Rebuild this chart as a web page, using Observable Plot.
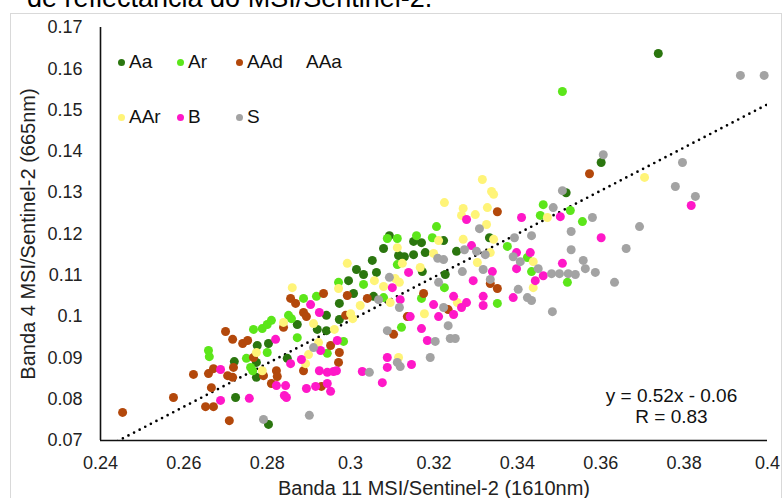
<!DOCTYPE html>
<html>
<head>
<meta charset="utf-8">
<script src="https://cdn.jsdelivr.net/npm/d3@7"></script>
<script src="https://cdn.jsdelivr.net/npm/@observablehq/plot@0.6"></script>
<style>
  html, body { margin: 0; padding: 0; background: #fff; overflow: hidden; }
  body { width: 784px; height: 498px; position: relative; font-family: "Liberation Sans", Arial, sans-serif; }
  #title { position: absolute; left: 27px; top: -15px; font-size: 27px; line-height: 27px; white-space: nowrap; color: #000; }
  #frame { position: absolute; left: 10px; top: 13px; width: 772px; height: 500px; border: 1px solid #d9d9d9; box-sizing: border-box; }
  #chart { position: absolute; left: 0; top: 0; }
  .lg-item { position: absolute; height: 20px; display: flex; align-items: center; font-size: 19px; color: #111; white-space: nowrap; }
  .lg-dot { width: 7px; height: 7px; border-radius: 50%; margin-right: 4px; flex: none; }
</style>
</head>
<body>
<div id="title">de reflectância do MSI/Sentinel-2.</div>
<div id="frame"></div>
<div id="chart"></div>
<div id="legend"></div>
<script>
// Classes, in drawing order, with their marker colours
const groups = ["Aa", "Ar", "AAd", "AAa", "AAr", "B", "S"];
const groupColors = ["#2b760f", "#5ce61a", "#b3480b", "transparent", "#fff478", "#ff18c8", "#a3a3a3"];

// [Banda 11, Banda 4] reflectance pairs per class
const aaPts = [[0.3738,0.1637],[0.3601,0.1373],[0.3517,0.1300],[0.3333,0.1191],[0.3093,0.1196],[0.3151,0.1182],[0.3170,0.1179],[0.3079,0.1165],[0.3115,0.1148],[0.3129,0.1145],[0.3151,0.1150],[0.3179,0.1155],[0.3254,0.1158],[0.3052,0.1136],[0.3014,0.1114],[0.3031,0.1102],[0.3062,0.1107],[0.3172,0.1109],[0.3227,0.1102],[0.3223,0.1184],[0.2995,0.1087],[0.3007,0.1056],[0.3055,0.1049],[0.2973,0.1032],[0.2942,0.1003],[0.2973,0.0993],[0.2872,0.0981],[0.2920,0.0969],[0.2942,0.0966],[0.2803,0.0935],[0.2776,0.0930],[0.2848,0.0899],[0.2721,0.0891],[0.2774,0.0889],[0.2774,0.0853],[0.2724,0.0804],[0.2803,0.0739]];
const arPts = [[0.3508,0.1545],[0.3462,0.1271],[0.3527,0.1257],[0.3455,0.1245],[0.3556,0.1230],[0.3206,0.1218],[0.3088,0.1189],[0.3112,0.1189],[0.3158,0.1196],[0.3196,0.1191],[0.3112,0.1126],[0.2971,0.1083],[0.3031,0.1078],[0.3225,0.1070],[0.3376,0.1170],[0.3424,0.1143],[0.3434,0.1109],[0.3520,0.1083],[0.3352,0.1032],[0.3170,0.1044],[0.3122,0.0974],[0.3079,0.1046],[0.2887,0.1044],[0.2918,0.1049],[0.2851,0.1003],[0.2858,0.0995],[0.2767,0.0969],[0.2788,0.0971],[0.2800,0.0981],[0.2810,0.0991],[0.2872,0.0949],[0.2983,0.0940],[0.2944,0.0911],[0.2659,0.0918],[0.2661,0.0903],[0.2750,0.0899],[0.2800,0.0913],[0.2760,0.0877],[0.2765,0.0869]];
const aadPts = [[0.3573,0.1346],[0.3352,0.1254],[0.3352,0.1068],[0.3335,0.1080],[0.3175,0.1056],[0.3103,0.0957],[0.3136,0.1000],[0.3234,0.1017],[0.3040,0.1044],[0.2992,0.1051],[0.2988,0.1003],[0.2935,0.1056],[0.2856,0.1044],[0.2868,0.1032],[0.2887,0.1010],[0.2894,0.1000],[0.2839,0.0974],[0.2700,0.0964],[0.2717,0.0945],[0.2741,0.0935],[0.2753,0.0942],[0.2952,0.0930],[0.2973,0.0913],[0.2971,0.0889],[0.2887,0.0869],[0.2930,0.0831],[0.2822,0.0869],[0.2824,0.0855],[0.2810,0.0838],[0.2767,0.0901],[0.2791,0.0857],[0.2719,0.0877],[0.2705,0.0857],[0.2717,0.0853],[0.2659,0.0862],[0.2671,0.0874],[0.2623,0.0860],[0.2666,0.0828],[0.2652,0.0782],[0.2671,0.0782],[0.2709,0.0748],[0.2575,0.0804],[0.2453,0.0768]];
const aaaPts = [];
const aarPts = [[0.3705,0.1337],[0.3316,0.1332],[0.3338,0.1303],[0.3343,0.1296],[0.3225,0.1276],[0.3270,0.1262],[0.3266,0.1245],[0.3299,0.1247],[0.3328,0.1264],[0.3472,0.1240],[0.3326,0.1223],[0.3270,0.1187],[0.3343,0.1187],[0.3211,0.1184],[0.3112,0.1167],[0.3199,0.1153],[0.3335,0.1155],[0.3304,0.1131],[0.3167,0.1119],[0.3438,0.1133],[0.2992,0.1129],[0.3057,0.1087],[0.3107,0.1092],[0.3117,0.1083],[0.3079,0.1073],[0.2971,0.1068],[0.2860,0.1070],[0.3124,0.1129],[0.3438,0.1070],[0.3256,0.1034],[0.3177,0.1007],[0.3095,0.1034],[0.3023,0.1027],[0.3000,0.1007],[0.3005,0.0995],[0.2911,0.0983],[0.2839,0.0986],[0.2961,0.0969],[0.2923,0.0937],[0.2899,0.0908],[0.2892,0.0886],[0.2774,0.0913],[0.2788,0.0869],[0.3115,0.0901]];
const bPts = [[0.3817,0.1269],[0.3601,0.1191],[0.3410,0.1240],[0.3503,0.1242],[0.3278,0.1235],[0.3290,0.1172],[0.3398,0.1155],[0.3431,0.1155],[0.3508,0.1129],[0.3398,0.1116],[0.3462,0.1099],[0.3443,0.1087],[0.3340,0.1109],[0.3294,0.1087],[0.3139,0.1107],[0.3100,0.1070],[0.3119,0.1041],[0.3199,0.1029],[0.3211,0.1000],[0.3143,0.1000],[0.3247,0.1049],[0.3266,0.1022],[0.3278,0.1034],[0.3247,0.1005],[0.3318,0.1049],[0.3318,0.1027],[0.3390,0.1046],[0.3170,0.0971],[0.3184,0.0942],[0.3088,0.0901],[0.3088,0.0877],[0.3146,0.0884],[0.3076,0.0840],[0.3028,0.0867],[0.2904,0.1029],[0.2925,0.1010],[0.2820,0.0945],[0.2968,0.0942],[0.2928,0.0918],[0.2856,0.0886],[0.2882,0.0896],[0.2894,0.0826],[0.2916,0.0831],[0.2925,0.0869],[0.2944,0.0865],[0.2959,0.0867],[0.2966,0.0869],[0.2944,0.0838],[0.2952,0.0819],[0.2822,0.0833],[0.2844,0.0833],[0.2841,0.0809],[0.2846,0.0804],[0.2688,0.0872],[0.2688,0.0797],[0.2757,0.0802]];
const sPts = [[0.3935,0.1584],[0.3992,0.1584],[0.3606,0.1392],[0.3796,0.1373],[0.3779,0.1315],[0.3827,0.1291],[0.3508,0.1305],[0.3486,0.1264],[0.3580,0.1240],[0.3693,0.1218],[0.3529,0.1206],[0.3661,0.1165],[0.3529,0.1162],[0.3434,0.1196],[0.3393,0.1191],[0.3309,0.1213],[0.3273,0.1162],[0.3302,0.1158],[0.3323,0.1150],[0.3390,0.1145],[0.3407,0.1133],[0.3450,0.1116],[0.3558,0.1136],[0.3563,0.1116],[0.3587,0.1107],[0.3633,0.1083],[0.3482,0.1104],[0.3501,0.1104],[0.3522,0.1104],[0.3539,0.1102],[0.3318,0.1114],[0.3268,0.1109],[0.3335,0.1090],[0.3211,0.1083],[0.3209,0.1141],[0.3223,0.1138],[0.3093,0.1095],[0.3117,0.1022],[0.3223,0.1022],[0.3234,0.0978],[0.3239,0.0947],[0.3251,0.0947],[0.3203,0.0940],[0.3191,0.0901],[0.3119,0.0879],[0.3112,0.0889],[0.3088,0.0966],[0.3045,0.0865],[0.3067,0.1041],[0.2911,0.0925],[0.2901,0.0761],[0.2791,0.0751],[0.3424,0.1046],[0.3434,0.1039],[0.3484,0.1012],[0.3402,0.1066]];

// Axis ticks
const xTicks = [0.24, 0.26, 0.28, 0.3, 0.32, 0.34, 0.36, 0.38, 0.4];
const yTicks = [0.07, 0.08, 0.09, 0.1, 0.11, 0.12, 0.13, 0.14, 0.15, 0.16, 0.17];

// Linear trend fitted over all classes
const trendSlope = 0.523;
const trendIntercept = -0.0578;
const trendR = 0.83;

const xTitle = "Banda 11 MSI/Sentinel-2 (1610nm)";
const yTitle = "Banda 4 MSI/Sentinel-2 (665nm)";

const seriesPts = [aaPts, arPts, aadPts, aaaPts, aarPts, bPts, sPts];
const rows = seriesPts.flatMap((pts, i) => pts.map(([b11, b4]) => ({group: groups[i], b11, b4})));

const xDomain = [xTicks[0], xTicks[xTicks.length - 1]];
const yDomain = [yTicks[0], yTicks[yTicks.length - 1]];
const trend = xDomain.map(x => ({b11: x, b4: trendSlope * x + trendIntercept}));

const fmt = d3.format("~g");
const eqLine = `y = ${trendSlope.toFixed(2)}x - ${Math.abs(trendIntercept).toFixed(2)}`;
const rLine = `R = ${trendR.toFixed(2)}`;

const chart = Plot.plot({
  width: 784,
  height: 498,
  marginLeft: 100,
  marginRight: 17,
  marginTop: 27,
  marginBottom: 58,
  style: {fontFamily: "Liberation Sans, Arial, sans-serif", fontSize: "18px", color: "#222", background: "transparent"},
  x: {domain: xDomain, ticks: xTicks, tickFormat: fmt, tickSize: 0, tickPadding: 16, label: null},
  y: {domain: yDomain, ticks: yTicks, tickFormat: fmt, tickSize: 0, tickPadding: 18, label: null},
  color: {domain: groups, range: groupColors},
  marks: [
    Plot.line(trend, {x: "b11", y: "b4", stroke: "#000", strokeWidth: 2.7, strokeDasharray: "0 6.3", strokeLinecap: "round", clip: true}),
    Plot.dot(rows, {x: "b11", y: "b4", fill: "group", r: 4.5}),
    Plot.ruleY([yDomain[0]], {stroke: "#111", strokeWidth: 1.6}),
    Plot.ruleX([xDomain[0]], {stroke: "#111", strokeWidth: 1.6}),
    Plot.text([eqLine], {frameAnchor: "bottom-right", dx: -96, dy: -45, textAnchor: "middle", lineAnchor: "middle", fontSize: 19, fill: "#111"}),
    Plot.text([rLine], {frameAnchor: "bottom-right", dx: -96, dy: -24, textAnchor: "middle", lineAnchor: "middle", fontSize: 19, fill: "#111"}),
    Plot.text([xTitle], {frameAnchor: "bottom", dy: 48, textAnchor: "middle", lineAnchor: "middle", fontSize: 20, fill: "#222"}),
    Plot.text([yTitle], {frameAnchor: "left", dx: -72, rotate: -90, textAnchor: "middle", lineAnchor: "middle", fontSize: 20, fill: "#222"})
  ]
});
document.getElementById("chart").appendChild(chart);

// Legend: four columns, two rows, inside the plot area
const legend = document.getElementById("legend");
groups.forEach((g, i) => {
  const item = document.createElement("div");
  item.className = "lg-item";
  item.style.left = (118 + (i % 4) * 59) + "px";
  item.style.top = (52 + Math.floor(i / 4) * 55) + "px";
  const dot = document.createElement("span");
  dot.className = "lg-dot";
  dot.style.background = groupColors[i];
  const label = document.createElement("span");
  label.textContent = g;
  item.appendChild(dot);
  item.appendChild(label);
  legend.appendChild(item);
});
</script>
</body>
</html>
